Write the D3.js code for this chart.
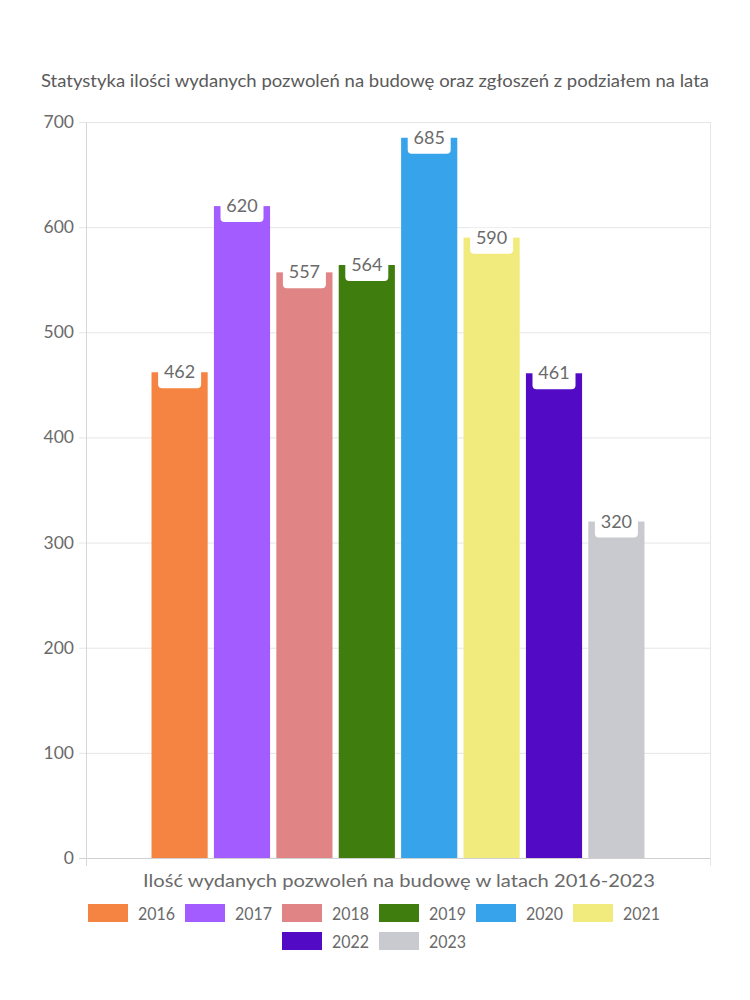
<!DOCTYPE html>
<html><head><meta charset="utf-8">
<script src="https://cdn.jsdelivr.net/npm/d3@7"></script>
<style>body{margin:0;background:#fff;} svg{display:block;}</style>
</head><body>
<script>
const years = ["2016","2017","2018","2019","2020","2021","2022","2023"];
const values = [462,620,557,564,685,590,461,320];
const colors = ["#F58442","#A25CFF","#E08485","#3E7D0E","#37A3EB","#F0EB7C","#520AC5","#C9CACF"];
const yTicks = [0,100,200,300,400,500,600,700];
const title = "Statystyka ilości wydanych pozwoleń na budowę oraz zgłoszeń z podziałem na lata";
const xTitle = "Ilość wydanych pozwoleń na budowę w latach 2016-2023";

const W=750,H=1000;
const FONT="Lato, 'Open Sans', sans-serif";
const svg=d3.select("body").append("svg").attr("width",W).attr("height",H);
const L=86,R=710,T=122,B=858;
const y=d3.scaleLinear().domain([0,700]).range([B,T]);
const gw=(R-L)*0.8, g0=L+(R-L)*0.1;
const x=d3.scaleBand().domain(years).range([g0,g0+gw]).paddingInner(0.1).paddingOuter(0.05);

// title
svg.append("text").attr("x",375).attr("y",87).attr("text-anchor","middle")
  .attr("font-family",FONT).attr("font-size",17).attr("fill","#5a5a5a")
  .attr("textLength",668).attr("lengthAdjust","spacingAndGlyphs").text(title);

// grid
svg.append("g").selectAll("line").data(yTicks).join("line")
  .attr("x1",L-7).attr("x2",R).attr("y1",d=>y(d)+0.5).attr("y2",d=>y(d)+0.5)
  .attr("stroke",d=>d===0?"#d0d0d0":"#e6e6e6").attr("stroke-width",1);
svg.append("line").attr("x1",L+0.5).attr("x2",L+0.5).attr("y1",T).attr("y2",B+8).attr("stroke","#d6d6d6");
svg.append("line").attr("x1",R+0.5).attr("x2",R+0.5).attr("y1",T).attr("y2",B+8).attr("stroke","#e6e6e6");

// y axis labels
svg.append("g").selectAll("text").data(yTicks).join("text")
  .attr("x",74).attr("y",d=>y(d)+6).attr("text-anchor","end")
  .attr("font-family",FONT).attr("font-size",17.5).attr("fill","#6a6a6a").text(d=>d);

// bars
const bars=svg.append("g");
years.forEach((yr,i)=>{
  const bx=x(yr), bw=x.bandwidth(), top=y(values[i]);
  bars.append("rect").attr("x",bx).attr("y",top).attr("width",bw).attr("height",B-top)
    .attr("fill",colors[i]);
  const cx=bx+bw/2;
  bars.append("path").attr("d",`M${cx-21.5},${top-10} H${cx+21.5} V${top+12} Q${cx+21.5},${top+16} ${cx+17.5},${top+16} H${cx-17.5} Q${cx-21.5},${top+16} ${cx-21.5},${top+12} Z`)
    .attr("fill","#fff");
  bars.append("text").attr("x",cx).attr("y",top+6).attr("text-anchor","middle")
    .attr("font-family",FONT).attr("font-size",18).attr("fill","#6a6a6a").text(values[i]);
});

// x title
svg.append("text").attr("x",399).attr("y",887).attr("text-anchor","middle")
  .attr("font-family",FONT).attr("font-size",18).attr("fill","#6a6a6a")
  .attr("textLength",512).attr("lengthAdjust","spacingAndGlyphs").text(xTitle);

// legend
const rows=[[0,1,2,3,4,5],[6,7]];
const rowY=[904,932];
const lg=svg.append("g");
rows.forEach((row,ri)=>{
  const itemW=40+10+37+10;
  const total=row.length*itemW-10;
  let sx=374-total/2;
  row.forEach(i=>{
    lg.append("rect").attr("x",sx).attr("y",rowY[ri]).attr("width",40).attr("height",18).attr("fill",colors[i]);
    lg.append("text").attr("x",sx+50).attr("y",rowY[ri]+15.5).attr("font-family",FONT)
      .attr("font-size",18).attr("fill","#6a6a6a")
      .attr("textLength",37).attr("lengthAdjust","spacingAndGlyphs").text(years[i]);
    sx+=itemW;
  });
});
</script>
</body></html>
